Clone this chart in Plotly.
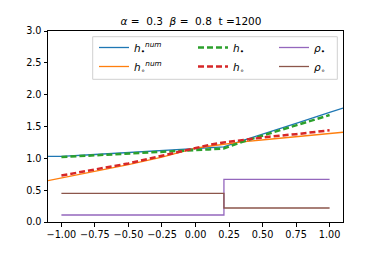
import plotly.graph_objects as go

# numerical solutions (extend past [-1, 1])
x_num = [-1.1, -1.0, -0.75, -0.5, -0.25, 0.0, 0.1, 0.21, 0.35, 0.55, 0.75, 1.0, 1.1]
h_dot_num = [1.03, 1.03, 1.06, 1.09, 1.125, 1.155, 1.165, 1.18, 1.28, 1.41, 1.55, 1.72, 1.79]
h_circ_num = [0.65, 0.69, 0.79, 0.90, 1.02, 1.16, 1.19, 1.22, 1.26, 1.30, 1.34, 1.39, 1.41]

# analytic
x_an = [-1.0, -0.75, -0.5, -0.25, 0.0, 0.1, 0.21, 0.35, 0.55, 0.75, 1.0]
h_dot = [1.02, 1.05, 1.08, 1.105, 1.13, 1.14, 1.155, 1.26, 1.39, 1.52, 1.68]
h_circ = [0.73, 0.82, 0.92, 1.04, 1.17, 1.21, 1.25, 1.29, 1.34, 1.38, 1.44]

# densities (step)
x_rho = [-1.0, 0.212, 0.212, 1.0]
rho_dot = [0.11, 0.11, 0.67, 0.67]
rho_circ = [0.45, 0.45, 0.22, 0.22]

title_text = "<i>α</i> =  0.3  <i>β</i> =  0.8  t =1200"
xticks = [-1.0, -0.75, -0.5, -0.25, 0.0, 0.25, 0.5, 0.75, 1.0]
xticklabels = ["\u22121.00", "\u22120.75", "\u22120.50", "\u22120.25", "0.00", "0.25", "0.50", "0.75", "1.00"]
yticks = [0.0, 0.5, 1.0, 1.5, 2.0, 2.5, 3.0]
yticklabels = ["0.0", "0.5", "1.0", "1.5", "2.0", "2.5", "3.0"]

BLUE, ORANGE, GREEN, RED, PURPLE, BROWN = "#1f77b4", "#ff7f0e", "#2ca02c", "#d62728", "#9467bd", "#8c564b"
FONT = "DejaVu Sans"

fig = go.Figure()
fig.add_trace(go.Scatter(x=x_num, y=h_dot_num, mode="lines", line=dict(color=BLUE, width=1.3),
                         name="<i>h</i><sub>•</sub><sup><i>num</i></sup>", legend="legend"))
fig.add_trace(go.Scatter(x=x_num, y=h_circ_num, mode="lines", line=dict(color=ORANGE, width=1.3),
                         name="<i>h</i><sub>∘</sub><sup><i>num</i></sup>", legend="legend"))
fig.add_trace(go.Scatter(x=x_an, y=h_dot, mode="lines", line=dict(color=GREEN, width=2.5, dash="6px,3px"),
                         name="<i>h</i><sub>•</sub>", legend="legend2"))
fig.add_trace(go.Scatter(x=x_an, y=h_circ, mode="lines", line=dict(color=RED, width=2.5, dash="6px,3px"),
                         name="<i>h</i><sub>∘</sub>", legend="legend2"))
fig.add_trace(go.Scatter(x=x_rho, y=rho_dot, mode="lines", line=dict(color=PURPLE, width=1.3),
                         name="<i>ρ</i><sub>•</sub>", legend="legend3"))
fig.add_trace(go.Scatter(x=x_rho, y=rho_circ, mode="lines", line=dict(color=BROWN, width=1.3),
                         name="<i>ρ</i><sub>∘</sub>", legend="legend3"))

L, R, T, B = 48, 39, 31, 32
W, H = 382, 254
pw, ph = W - L - R, H - T - B

def px(xp):
    return (xp - L) / pw

def py(yp):
    return 1 - (yp - T) / ph

leg_common = dict(bgcolor="rgba(0,0,0,0)", borderwidth=0, yanchor="top", xanchor="left",
                  font=dict(family=FONT, size=10.5, color="black"), traceorder="normal",
                  tracegroupgap=0, itemwidth=30)

fig.update_layout(
    width=W, height=H,
    margin=dict(l=L, r=R, t=T, b=B),
    paper_bgcolor="white", plot_bgcolor="white",
    font=dict(family=FONT, size=10, color="black"),
    title=dict(text=title_text, x=px(195.5), xanchor="center", y=1 - 21 / H, yanchor="middle",
               font=dict(family=FONT, size=10.5, color="black")),
    legend=dict(x=px(94), y=py(33), **leg_common),
    legend2=dict(x=px(193), y=py(33), **leg_common),
    legend3=dict(x=px(274), y=py(33), **leg_common),
    shapes=[dict(type="rect", xref="paper", yref="paper", x0=px(92.7), x1=px(337.3),
                 y0=py(79.3), y1=py(36.7), line=dict(color="#d0d0d0", width=1), layer="below")],
    xaxis=dict(range=[-1.1, 1.1], tickmode="array", tickvals=xticks, ticktext=xticklabels,
               showgrid=False, zeroline=False, showline=True, mirror=True, linecolor="black",
               linewidth=1, ticks="outside", ticklen=3.5, tickwidth=1, tickcolor="black",
               tickfont=dict(family=FONT, size=9.7)),
    yaxis=dict(range=[0, 3.0], tickmode="array", tickvals=yticks, ticktext=yticklabels,
               showgrid=False, zeroline=False, showline=True, mirror=True, linecolor="black",
               linewidth=1, ticks="outside", ticklen=3.5, tickwidth=1, tickcolor="black",
               tickfont=dict(family=FONT, size=9.7)),
)

fig.write_html("out.html", config={"displayModeBar": False},
               post_script="document.body.style.margin='0';document.body.style.overflow='hidden';")
